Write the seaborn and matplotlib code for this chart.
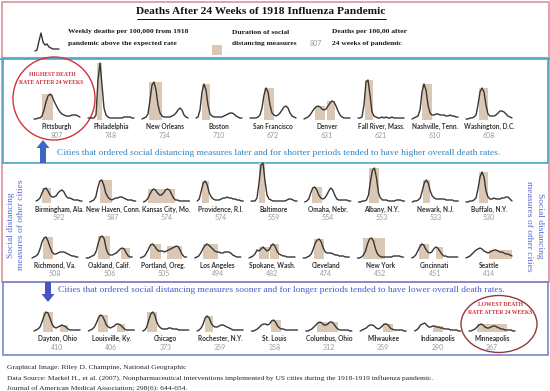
import numpy as np
import matplotlib
matplotlib.use("Agg")
import matplotlib.pyplot as plt
import seaborn as sns
from matplotlib.patches import Rectangle, Ellipse, FancyArrow

# Weekly excess deaths per 100,000 (24 weeks).
# Shades are (start_week, end_week) of social distancing measures.
top_cities = ["Pittsburgh", "Philadelphia", "New Orleans", "Boston", "San Francisco",
              "Denver", "Fall River, Mass.", "Nashville, Tenn.", "Washington, D.C."]
top_deaths = [807, 748, 734, 710, 672, 631, 621, 610, 608]
top_curves = [
    [1, 1, 2, 2, 4, 10, 18, 24, 26, 24, 19, 15, 11, 8, 6, 5, 4, 4, 4, 5, 5, 5, 4, 3],
    [2, 2, 2, 2, 5, 40, 57, 35, 12, 5, 3, 2, 2, 2, 2, 2, 2, 2, 3, 3, 3, 3, 2, 2],
    [1, 2, 3, 6, 20, 35, 38, 30, 15, 7, 4, 3, 3, 3, 3, 4, 5, 7, 10, 12, 10, 5, 3, 2],
    [2, 3, 10, 28, 36, 30, 15, 6, 4, 3, 3, 3, 3, 3, 4, 5, 6, 7, 7, 6, 4, 3, 2, 2],
    [2, 2, 2, 2, 3, 5, 12, 25, 32, 28, 15, 7, 5, 4, 5, 7, 10, 13, 14, 12, 7, 4, 3, 2],
    [1, 2, 3, 5, 8, 11, 13, 14, 13, 11, 10, 11, 14, 17, 19, 18, 14, 9, 5, 3, 2, 2, 2, 2],
    [2, 2, 3, 15, 38, 40, 25, 8, 4, 3, 2, 2, 3, 2, 3, 2, 2, 3, 2, 2, 2, 2, 2, 2],
    [1, 2, 3, 4, 10, 28, 36, 30, 15, 7, 5, 5, 6, 6, 5, 5, 5, 4, 4, 5, 4, 4, 3, 3],
    [1, 1, 2, 2, 3, 5, 15, 28, 32, 28, 15, 6, 4, 4, 4, 5, 7, 9, 9, 8, 6, 4, 3, 2],
]
top_shades = [[(4, 9.5)], [(4.5, 7)], [(3.5, 10)], [(3, 7)], [(7, 12)],
              [(5.5, 10.5), (11.5, 15.5)], [(3.5, 7.5)], [(5, 10)], [(6.5, 11)]]

mid1_cities = ["Birmingham, Ala.", "New Haven, Conn.", "Kansas City, Mo.", "Providence, R.I.",
               "Baltimore", "Omaha, Nebr.", "Albany, N.Y.", "Newark, N.J.", "Buffalo, N.Y."]
mid1_deaths = [592, 587, 574, 574, 559, 554, 553, 533, 530]
mid1_curves = [
    [2, 3, 5, 10, 14, 15, 12, 8, 6, 6, 7, 10, 12, 13, 11, 7, 5, 5, 4, 3, 3, 3, 2, 2],
    [1, 2, 3, 6, 15, 22, 23, 18, 10, 6, 4, 3, 4, 5, 5, 6, 6, 5, 4, 3, 3, 3, 2, 2],
    [1, 2, 4, 8, 12, 14, 13, 10, 8, 8, 10, 13, 14, 13, 9, 5, 3, 3, 2, 2, 2, 2, 2, 2],
    [2, 4, 12, 20, 22, 18, 10, 6, 4, 3, 3, 3, 4, 5, 5, 6, 5, 5, 4, 4, 3, 3, 2, 2],
    [2, 2, 2, 5, 20, 38, 40, 22, 8, 4, 3, 2, 2, 2, 2, 2, 2, 2, 3, 4, 4, 3, 2, 2],
    [1, 2, 4, 10, 15, 16, 13, 8, 5, 4, 5, 8, 12, 15, 13, 8, 4, 3, 3, 3, 3, 3, 2, 2],
    [1, 1, 2, 2, 3, 8, 22, 33, 35, 25, 10, 5, 3, 3, 3, 2, 2, 2, 2, 3, 3, 3, 2, 2],
    [1, 2, 2, 3, 5, 12, 20, 23, 20, 12, 7, 5, 4, 4, 4, 4, 4, 3, 3, 3, 3, 2, 2, 2],
    [1, 1, 2, 2, 3, 5, 14, 26, 31, 26, 12, 6, 4, 4, 5, 4, 4, 4, 5, 5, 6, 6, 4, 2],
]
mid1_shades = [[(3, 7.5)], [(5, 11)], [(2, 15.5)], [(2.5, 6)], [(4, 7)],
               [(3.5, 8.5)], [(5, 10)], [(5.5, 9)], [(6.5, 11)]]

mid2_cities = ["Richmond, Va.", "Oakland, Calif.", "Portland, Oreg.", "Los Angeles",
               "Spokane, Wash.", "Cleveland", "New York", "Cincinnati", "Seattle"]
mid2_deaths = [508, 506, 505, 494, 482, 474, 452, 451, 414]
mid2_curves = [
    [1, 2, 3, 5, 10, 17, 21, 22, 18, 12, 7, 5, 5, 6, 7, 7, 7, 6, 5, 4, 3, 3, 2, 2],
    [1, 1, 2, 3, 4, 8, 16, 22, 23, 20, 10, 5, 4, 4, 5, 6, 8, 10, 11, 10, 6, 3, 2, 2],
    [1, 2, 3, 6, 10, 14, 15, 13, 10, 8, 8, 8, 7, 8, 9, 10, 11, 12, 13, 12, 8, 4, 2, 2],
    [1, 2, 3, 6, 10, 13, 15, 14, 12, 10, 8, 7, 7, 6, 6, 7, 7, 7, 6, 4, 3, 2, 2, 2],
    [1, 2, 3, 5, 9, 8, 10, 12, 10, 8, 9, 13, 15, 13, 8, 5, 4, 3, 3, 2, 2, 2, 2, 2],
    [1, 1, 2, 3, 5, 10, 16, 19, 20, 17, 11, 7, 6, 6, 6, 5, 4, 4, 3, 3, 3, 2, 2, 2],
    [1, 1, 2, 4, 8, 15, 20, 21, 18, 10, 5, 3, 2, 2, 2, 2, 2, 2, 3, 3, 3, 3, 2, 2],
    [1, 2, 4, 8, 12, 15, 14, 10, 7, 6, 7, 10, 12, 11, 8, 5, 3, 3, 2, 2, 2, 2, 2, 2],
    [1, 2, 3, 5, 7, 9, 10, 11, 10, 8, 7, 6, 7, 8, 9, 9, 8, 7, 7, 6, 5, 5, 4, 3],
]
mid2_shades = [[(5.5, 10.5)], [(6, 12), (17.5, 22)], [(4.5, 10), (13.5, 21)], [(4, 11.5)],
               [(5, 10), (10.5, 15)], [(5.5, 10.5)], [(2.5, 13.5)], [(3.5, 8.5), (12, 15.5)],
               [(11.5, 23)]]

low_cities = ["Dayton, Ohio", "Louisville, Ky.", "Chicago", "Rochester, N.Y.", "St. Louis",
              "Columbus, Ohio", "Milwaukee", "Indianapolis", "Minneapolis"]
low_deaths = [410, 406, 373, 359, 358, 312, 359, 290, 267]
low_curves = [
    [1, 2, 3, 5, 10, 16, 20, 19, 14, 8, 5, 4, 5, 6, 7, 6, 5, 3, 2, 2, 2, 2, 2, 2],
    [1, 2, 3, 5, 9, 14, 17, 16, 12, 7, 5, 4, 5, 6, 8, 8, 7, 5, 3, 2, 2, 2, 2, 2],
    [1, 2, 5, 12, 18, 20, 17, 10, 6, 4, 3, 3, 3, 4, 4, 3, 3, 3, 2, 2, 2, 2, 2, 2],
    [1, 2, 4, 8, 14, 16, 14, 9, 6, 5, 5, 6, 7, 7, 6, 5, 4, 3, 2, 2, 2, 2, 2, 2],
    [1, 1, 2, 3, 5, 7, 8, 8, 7, 8, 11, 12, 10, 6, 4, 3, 3, 2, 2, 2, 2, 2, 2, 2],
    [1, 1, 2, 3, 5, 7, 9, 10, 9, 7, 7, 8, 10, 10, 8, 5, 3, 2, 2, 2, 2, 2, 1, 1],
    [1, 2, 3, 4, 6, 7, 7, 6, 4, 3, 4, 6, 8, 8, 7, 4, 3, 2, 2, 2, 2, 2, 1, 1],
    [1, 2, 4, 7, 8, 9, 7, 5, 5, 6, 6, 5, 5, 4, 4, 3, 3, 3, 2, 2, 2, 2, 1, 1],
    [1, 1, 2, 3, 5, 7, 8, 7, 5, 4, 4, 5, 6, 6, 5, 4, 3, 3, 2, 2, 2, 2, 1, 1],
]
low_shades = [[(4.5, 9.5), (13, 17)], [(5, 10), (14.5, 18.5)], [(2, 7)], [(4, 8)], [(9.5, 14.5)],
              [(5.5, 16)], [(11.5, 16.5)], [(9, 14)], [(4, 19)]]

legend_curve = [0, 1, 10, 18, 9, 6, 7, 4, 3, 2, 2, 2, 2]

# ---- styling / layout (pixels) ----
FW, FH = 550, 391
SW, SH = 46, 60
SHADE = "#dac8b5"
LINE = "#363636"
SERIF = "Liberation Serif"
SANS = "Lato"

sns.set_theme(style="white")
plt.rcParams["font.family"] = [SERIF, "DejaVu Serif"]

fig = plt.figure(figsize=(FW / 100, FH / 100), dpi=100)
fig.patch.set_facecolor("white")
ax0 = fig.add_axes([0, 0, 1, 1])
ax0.set_xlim(0, FW)
ax0.set_ylim(FH, 0)
ax0.axis("off")


def sparkline(cx, base, curve, shades, width=SW):
    ax = fig.add_axes([(cx - width / 2) / FW, (FH - base) / FH, width / FW, SH / FH])
    ax.set_xlim(0, len(curve) - 1)
    ax.set_ylim(0, SH)
    ax.axis("off")
    ax.patch.set_alpha(0)
    for a, b in shades:
        top = max(curve[int(a):int(np.ceil(b)) + 1])
        ax.fill_between([a, b], 0, top, color=SHADE, lw=0)
    sns.lineplot(x=np.arange(len(curve)), y=curve, ax=ax, color=LINE, lw=1.0)
    for ln in ax.lines:
        ln.set_clip_on(False)
    return ax


def city_row(cities, deaths, curves, shades, base, x0=57, x1=489):
    centers = np.linspace(x0, x1, len(cities))
    for cx, name, d, c, s in zip(centers, cities, deaths, curves, shades):
        sparkline(cx, base, c, s)
        ax0.text(cx, base + 6.5, name, ha="center", va="center", fontsize=4.7,
                 family=SANS, fontweight="bold", color="#333333")
        ax0.text(cx, base + 15, str(d), ha="center", va="center", fontsize=5.0,
                 family=SANS, color="#9a9a9a")


# ---- frames ----
ax0.add_patch(Rectangle((1.5, 1.5), 547, 280, fill=False, ec="#e0909b", lw=1.2))
ax0.add_patch(Rectangle((2.5, 58), 545, 105, fill=False, ec="#4aa5c9", lw=1.2))
ax0.add_patch(Rectangle((2.5, 282), 545, 73, fill=False, ec="#7b86d0", lw=1.2))
ax0.add_patch(Rectangle((0, 59), 550, 0, fill=False, ec="#4aa5c9", lw=1.2))

# ---- header ----
ax0.text(261, 12, "Deaths After 24 Weeks of 1918 Influenza Pandemic", ha="center", va="center",
         fontsize=8.2, fontweight="bold", color="#111111")
ax0.plot([137, 386], [18.5, 18.5], color="#111111", lw=0.7)
sparkline(47, 51, legend_curve, [], width=24)
lg = dict(fontsize=5.4, fontweight="bold", va="center", ha="left", color="#1a1a1a")
ax0.text(68, 32, "Weekly deaths per 100,000 from 1918", **lg)
ax0.text(68, 43, "pandemic above the expected rate", **lg)
ax0.add_patch(Rectangle((212, 45), 10, 10, color=SHADE, lw=0))
ax0.text(232, 32, "Duration of social", **lg)
ax0.text(232, 43, "distancing measures", **lg)
ax0.text(316, 44, "807", ha="center", va="center", fontsize=5.0, family=SANS, color="#9a9a9a")
ax0.text(332, 32, "Deaths per 100,00 after", **lg)
ax0.text(332, 43, "24 weeks of pandemic", **lg)

# ---- rows ----
city_row(top_cities, top_deaths, top_curves, top_shades, 120)
city_row(mid1_cities, mid1_deaths, mid1_curves, mid1_shades, 203, x0=59)
city_row(mid2_cities, mid2_deaths, mid2_curves, mid2_shades, 259, x0=55)
city_row(low_cities, low_deaths, low_curves, low_shades, 332, x1=492)

# ---- captions and arrows ----
ax0.add_patch(FancyArrow(43, 163, 0, -23, width=6, head_width=13, head_length=8,
                         length_includes_head=True, color="#3a68c4", lw=0))
ax0.text(57, 153, "Cities that ordered social distancing measures later and for shorter periods "
         "tended to have higher overall death rates.", ha="left", va="center",
         fontsize=6.8, color="#2f84c4")
ax0.add_patch(FancyArrow(48, 282, 0, 20, width=6, head_width=13, head_length=8,
                         length_includes_head=True, color="#4a55c4", lw=0))
ax0.text(58, 290, "Cities that ordered social distancing measures sooner and for longer periods "
         "tended to have lower overall death rates.", ha="left", va="center",
         fontsize=6.8, color="#4b5bc9")

side = dict(fontsize=6.8, color="#5a68cf", ha="center", va="center")
ax0.text(11, 225, "Social distancing", rotation=90, **side)
ax0.text(21, 225, "measures of other cities", rotation=90, **side)
ax0.text(540, 226, "Social distancing", rotation=270, **side)
ax0.text(529, 226, "measures of other cities", rotation=270, **side)

# ---- highlights ----
ax0.add_patch(Ellipse((54, 98.5), 82, 83, fill=False, ec="#d2313d", lw=1.0))
hl = dict(fontsize=4.1, fontweight="bold", ha="center", va="center", color="#cf2e3a")
ax0.text(52, 74, "HIGHEST DEATH", **hl)
ax0.text(51, 83, "RATE AFTER 24 WEEKS", **hl)
ax0.add_patch(Ellipse((499, 324), 76, 57, fill=False, ec="#8e3b3b", lw=1.0))
ax0.text(500, 304, "LOWEST DEATH", **hl)
ax0.text(500, 313, "RATE AFTER 24 WEEKS", **hl)

# ---- footer ----
ft = dict(fontsize=5.4, ha="left", va="center", color="#222222")
ax0.text(7, 367, "Graphical Image: Riley D. Champine, National Geographic", **ft)
ax0.text(7, 378, "Data Source: Markel H., et al. (2007). Nonpharmaceutical interventions "
         "implemented by US cities during the 1918-1919 influenza pandemic.", **ft)
ax0.text(7, 388, "Journal of American Medical Association; 298(6): 644-654.", **ft)

fig.savefig("out.png", dpi=100, facecolor="white")
